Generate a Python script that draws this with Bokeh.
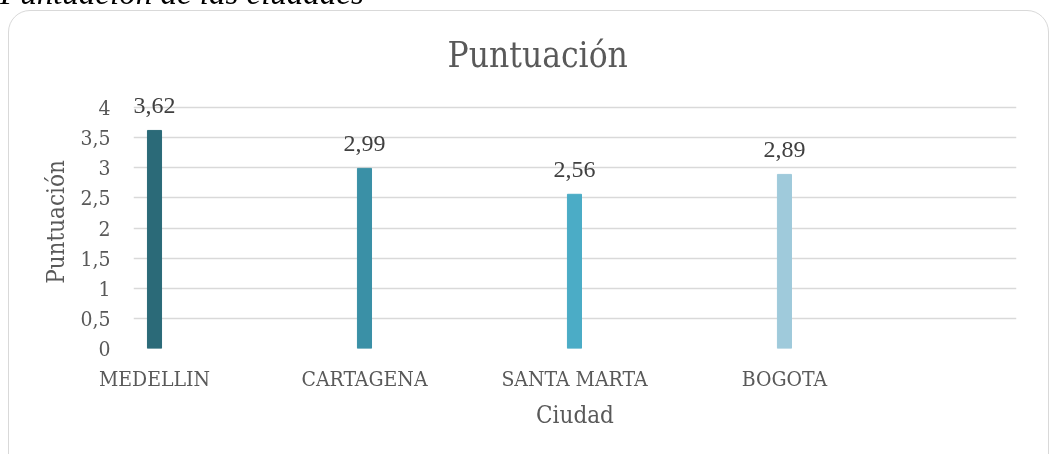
from bokeh.plotting import figure
from bokeh.models import (ColumnDataSource, Range1d, FixedTicker, CustomJSTickFormatter,
                          LabelSet, Div)
from bokeh.layouts import column
from bokeh.embed import file_html
from bokeh.resources import INLINE

cities = ["MEDELLIN", "CARTAGENA", "SANTA MARTA", "BOGOTA"]
scores = [3.62, 2.99, 2.56, 2.89]
colors = ["#2b6a78", "#3a90a6", "#4bacc6", "#9fcadb"]
y_ticks = [0, 0.5, 1, 1.5, 2, 2.5, 3, 3.5, 4]
title_text = "Puntuación"
y_label = "Puntuación"
x_label = "Ciudad"
caption = "Puntuación de las ciudades"

positions = list(range(len(cities)))
labels = [f"{v:.2f}".replace(".", ",") for v in scores]

src = ColumnDataSource(dict(x=positions, top=scores, color=colors, label=labels))

FONT = "DejaVu Serif Condensed"
GREY = "#595959"

fig = figure(width=1052, height=454, output_backend="svg", toolbar_location=None,
             x_range=Range1d(-0.1, 4.105), y_range=Range1d(0, 4.2),
             min_border_left=133, min_border_right=36, min_border_top=95, min_border_bottom=106)
fig.styles = {"position": "fixed", "top": "0px", "left": "0px"}
fig.background_fill_color = "white"
fig.border_fill_color = "white"
fig.outline_line_color = None

fig.vbar(x="x", top="top", bottom=0, width=0.067, color="color", source=src)

fig.add_layout(LabelSet(x="x", y="top", text="label", source=src, y_offset=17,
                        text_align="center", text_baseline="alphabetic",
                        text_font=FONT, text_font_size="24px", text_color="#404040"))

fig.title.text = title_text
fig.title.align = "left"
fig.title.offset = 314
fig.title.text_font = FONT
fig.title.text_font_size = "35px"
fig.title.text_font_style = "normal"
fig.title.text_color = GREY
fig.title.standoff = 42

fig.xgrid.visible = False
fig.ygrid.grid_line_color = "#d9d9d9"
fig.ygrid.grid_line_width = 1.3

fig.yaxis.ticker = FixedTicker(ticks=y_ticks)
fig.yaxis.formatter = CustomJSTickFormatter(code="return tick.toString().replace('.', ',');")
fig.xaxis.ticker = FixedTicker(ticks=positions)
fig.xaxis.major_label_overrides = {i: c for i, c in zip(positions, cities)}

for ax in (fig.xaxis[0], fig.yaxis[0]):
    ax.axis_line_color = None
    ax.major_tick_line_color = None
    ax.minor_tick_line_color = None
    ax.major_tick_out = 0
    ax.major_tick_in = 0
    ax.major_label_text_font = FONT
    ax.major_label_text_font_size = "21px"
    ax.major_label_text_color = GREY
    ax.axis_label_text_font = FONT
    ax.axis_label_text_font_size = "24px"
    ax.axis_label_text_font_style = "normal"
    ax.axis_label_text_color = GREY

fig.xaxis.axis_label = x_label
fig.yaxis.axis_label = y_label
fig.xaxis.major_label_standoff = 18
fig.xaxis.axis_label_standoff = 7
fig.yaxis.major_label_standoff = 23
fig.yaxis.axis_label_standoff = 7

frame_div = Div(text="", width=1041, height=540, margin=0,
                styles={"position": "fixed", "top": "10px", "left": "8px",
                        "height": "540px", "min-height": "540px", "max-height": "none",
                        "bottom": "auto",
                        "border": "1.5px solid #d9d9d9", "border-radius": "22px",
                        "pointer-events": "none", "background": "transparent"})

cap_div = Div(text=caption, width=620, height=33, margin=0,
              styles={"position": "fixed", "top": "-23px", "left": "0px",
                      "font-family": "Liberation Serif", "font-style": "italic",
                      "font-size": "33px", "line-height": "33px", "color": "black",
                      "margin": "0", "padding": "0", "white-space": "nowrap"})

p = column(fig, frame_div, cap_div)

open("out.html", "w").write(file_html(p, INLINE))
